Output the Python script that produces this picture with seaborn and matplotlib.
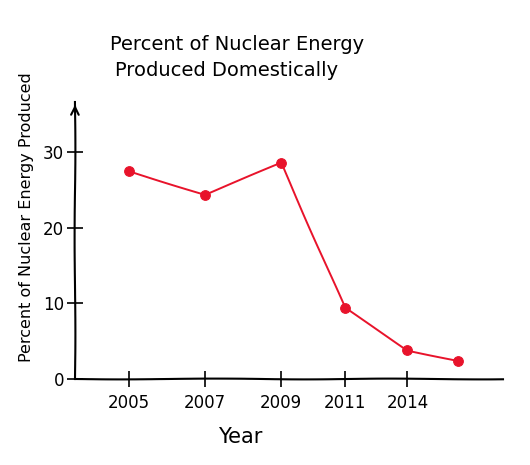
import matplotlib
matplotlib.use("Agg")
import matplotlib.pyplot as plt
import seaborn as sns
import pandas as pd

# ---- data ----
year_labels = ["2005", "2007", "2009", "2011", "2014"]
# positions of the hand-drawn ticks along the x axis (2005 = 0, 2007 = 1)
tick_pos = [0.0, 1.0, 2.0, 2.84, 3.66]
# positions of the plotted points (last point has no label)
point_pos = [0.0, 1.0, 2.0, 2.84, 3.66, 4.32]
percent = [27.5, 24.4, 28.6, 9.4, 3.8, 2.4]
y_ticks = [0, 10, 20, 30]

df = pd.DataFrame({"pos": point_pos, "percent": percent})

sns.set_style("white")

with plt.xkcd(scale=0.4, length=200, randomness=2):
    plt.rcParams["font.family"] = ["DejaVu Sans"]
    plt.rcParams["path.effects"] = []
    plt.rcParams["text.color"] = "black"
    plt.rcParams["axes.labelcolor"] = "black"
    fig = plt.figure(figsize=(5.3, 4.65), dpi=100)
    ax = fig.add_axes([0.1415, 0.185, 0.808, 0.596])

    sns.lineplot(data=df, x="pos", y="percent", ax=ax, color="#e8132b",
                 linewidth=1.4, marker="o", markersize=7,
                 markeredgecolor="#e8132b", markerfacecolor="#e8132b")

    ax.set_xlim(-0.71, 4.92)
    ax.set_ylim(0, 36.7)
    ax.set_xticks(tick_pos)
    ax.set_xticklabels(year_labels, fontsize=12)
    ax.set_yticks(y_ticks)
    ax.set_yticklabels([str(v) for v in y_ticks], fontsize=12)
    ax.tick_params(axis="both", direction="inout", length=12, width=1.2,
                   colors="black", bottom=True, left=True)
    ax.tick_params(axis="y", pad=2)
    ax.tick_params(axis="x", pad=5)

    for s in ["top", "right"]:
        ax.spines[s].set_visible(False)
    for s in ["left", "bottom"]:
        ax.spines[s].set_linewidth(1.5)
        ax.spines[s].set_color("black")

    # arrow on top of the y axis
    ax.annotate("", xy=(0, 1.0), xytext=(0, 0.97), xycoords="axes fraction",
                arrowprops=dict(arrowstyle="->", color="black", lw=1.5))

    ax.set_xlabel("Year", fontsize=15, color="black")
    ax.set_ylabel("Percent of Nuclear Energy Produced", fontsize=11.5,
                  color="black")
    ax.yaxis.set_label_coords(-0.095, 0.585)
    ax.xaxis.set_label_coords(0.385, -0.175)

    fig.text(110 / 530, 1 - 45 / 465, "Percent of Nuclear Energy",
             fontsize=14, ha="left", va="center", color="black")
    fig.text(115 / 530, 1 - 70 / 465, "Produced Domestically",
             fontsize=14, ha="left", va="center", color="black")

    fig.savefig("out.png", dpi=100, facecolor="white")
